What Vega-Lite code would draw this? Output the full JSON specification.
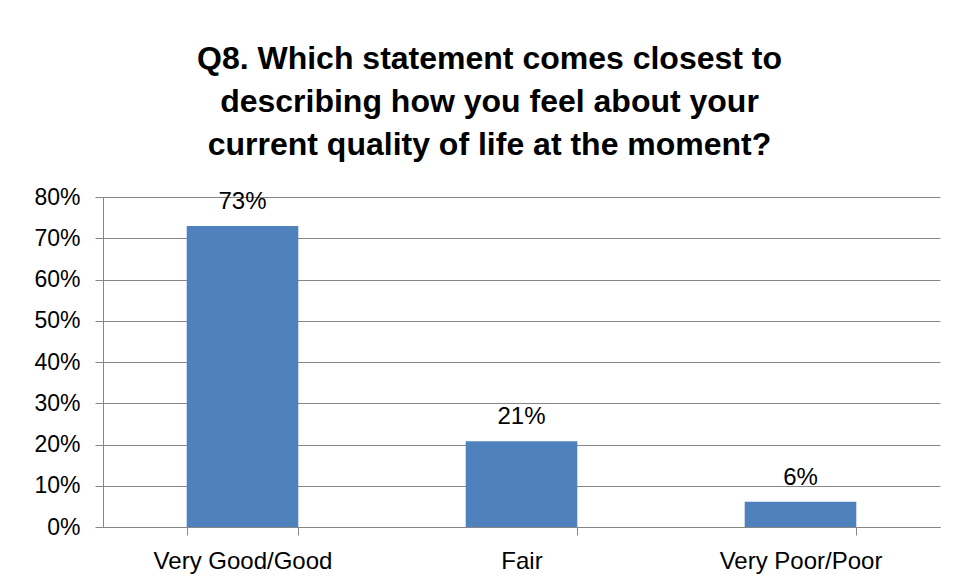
{
  "$schema": "https://vega.github.io/schema/vega-lite/v6.json",
  "autosize": "none",
  "width": 837,
  "height": 330,
  "padding": {"left": 103, "top": 197, "right": 16, "bottom": 56},
  "background": "white",
  "title": {
    "text": ["Q8. Which statement comes closest to", "describing how you feel about your", "current quality of life at the moment?"],
    "font": "Liberation Sans",
    "fontSize": 32,
    "fontWeight": "bold",
    "color": "black",
    "lineHeight": 43,
    "anchor": "middle",
    "dx": -32,
    "offset": 24
  },
  "data": {
    "values": [
      {"category": "Very Good/Good", "value": 0.73},
      {"category": "Fair", "value": 0.208},
      {"category": "Very Poor/Poor", "value": 0.061}
    ]
  },
  "encoding": {
    "x": {
      "field": "category",
      "type": "nominal",
      "sort": null,
      "scale": {"paddingInner": 0.6, "paddingOuter": 0.3},
      "axis": {
        "title": null,
        "labelAngle": 0,
        "labelFont": "Liberation Sans",
        "labelFontSize": 24,
        "labelColor": "black",
        "labelPadding": 14,
        "tickBand": "extent",
        "tickSize": 8,
        "tickColor": "#868686",
        "domainColor": "#868686",
        "grid": false
      }
    },
    "y": {
      "field": "value",
      "type": "quantitative",
      "scale": {"domain": [0, 0.8]},
      "axis": {
        "title": null,
        "format": ".0%",
        "values": [0, 0.1, 0.2, 0.3, 0.4, 0.5, 0.6, 0.7, 0.8],
        "labelFont": "Liberation Sans",
        "labelFontSize": 23,
        "labelColor": "black",
        "labelPadding": 15,
        "tickSize": 8,
        "tickColor": "#868686",
        "domainColor": "#868686",
        "gridColor": "#868686",
        "grid": true
      }
    }
  },
  "layer": [
    {"mark": {"type": "bar", "color": "#4F81BD"}},
    {
      "mark": {"type": "text", "font": "Liberation Sans", "fontSize": 24, "color": "black", "baseline": "alphabetic", "dy": -17},
      "encoding": {"text": {"field": "value", "type": "quantitative", "format": ".0%"}}
    }
  ],
  "config": {"view": {"stroke": null}}
}
